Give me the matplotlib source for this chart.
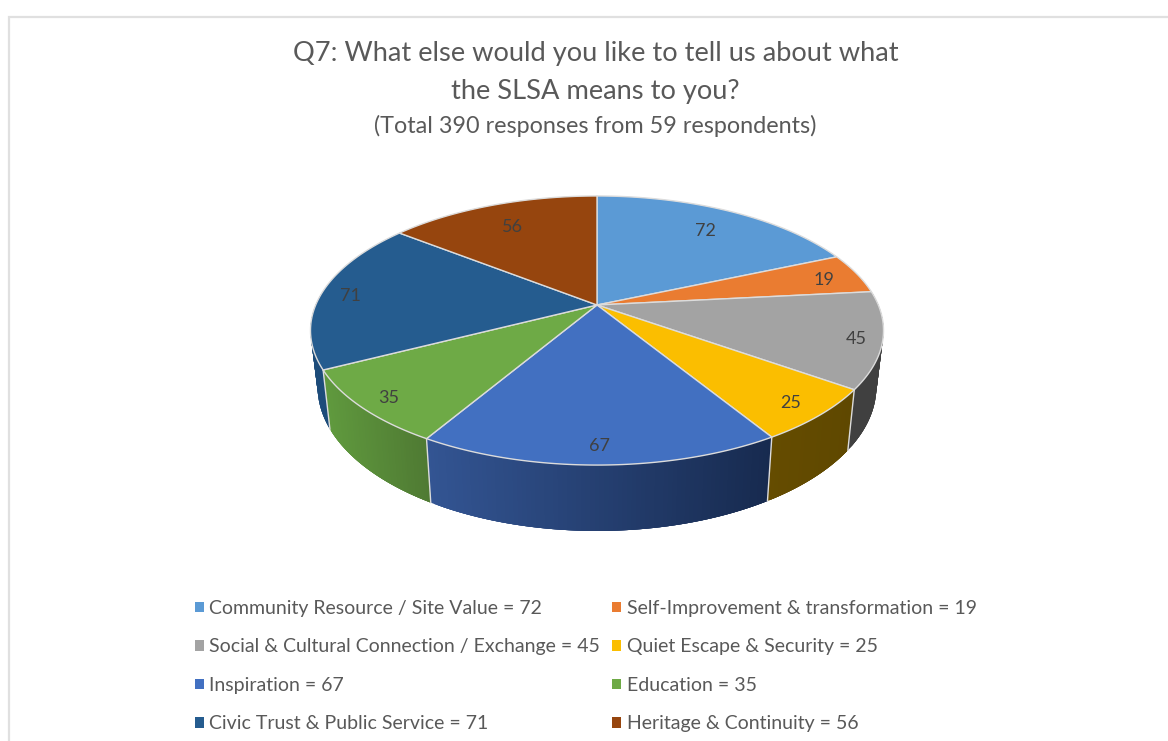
from __future__ import annotations

import matplotlib

matplotlib.use("Agg")

import matplotlib.pyplot as plt
import numpy as np
from matplotlib.patches import Patch

plt.rcParams["font.family"] = ["Lato", "DejaVu Sans"]

CATEGORIES = [
    "Community Resource / Site Value",
    "Self-Improvement & transformation",
    "Social & Cultural Connection / Exchange",
    "Quiet Escape & Security",
    "Inspiration",
    "Education",
    "Civic Trust & Public Service",
    "Heritage & Continuity",
]
VALUES = [72, 19, 45, 25, 67, 35, 71, 56]

COLORS = ["#5b9ad5", "#ea7c31", "#a3a3a3", "#fbbe00", "#4270c1", "#6eaa46", "#255c8f", "#96450e"]
WALL_LEFT = ["#404040", "#404040", "#404040", "#654c00", "#335593", "#609a3e", "#1d4c7a", "#96450e"]
WALL_RIGHT = ["#404040", "#404040", "#404040", "#5f4800", "#172a4f", "#4f7a33", "#1d4c7a", "#96450e"]
LABEL_RADIUS = [0.79, 0.87, 0.91, 0.886, 0.89, 0.90, 0.895, 0.78]

TEXT_GREY = "#595959"
EDGE = "#dcdcdc"

# pie projection, in pixels of the figure
CX, CY = 597.0, 305.0
RX, RY = 281.3, 129.7
PERSP = 0.1897
BOTTOM_RX = 274.3
BOTTOM_RY = 139.0
BOTTOM_DROP = 54.4


def top_xy(theta: np.ndarray, radius: float = 1.0) -> tuple[np.ndarray, np.ndarray]:
    # theta runs clockwise from twelve o'clock
    x = radius * np.sin(theta)
    y = radius * np.cos(theta)
    den = 1 + PERSP * y
    return CX + RX * x / den, CY - RY * y / den


def bottom_xy(theta: np.ndarray) -> tuple[np.ndarray, np.ndarray]:
    x = np.sin(theta)
    y = np.cos(theta)
    den = 1 + PERSP * y
    return CX + BOTTOM_RX * x / den, CY + BOTTOM_DROP - BOTTOM_RY * y / den


def draw_wall(ax, t0: float, t1: float, left: str, right: str) -> None:
    steps = np.linspace(t0, t1, 81)
    xt, yt = top_xy(steps)
    xb, yb = bottom_xy(steps)
    c_left = np.array(matplotlib.colors.to_rgb(left))
    c_right = np.array(matplotlib.colors.to_rgb(right))
    span = max(xt.max() - xt.min(), 1.0)
    # strips run from the low-x side and overlap the next ones, so no seams show
    order = np.arange(len(steps) - 1)[::-1]
    for i in order:
        j = max(i - 3, 0)
        frac = (0.5 * (xt[i] + xt[i + 1]) - xt.min()) / span
        color = c_left + (c_right - c_left) * frac
        idx = np.arange(j, i + 2)
        ax.fill(
            np.concatenate([xt[idx], xb[idx][::-1]]),
            np.concatenate([yt[idx], yb[idx][::-1]]),
            color=color,
            lw=0,
            zorder=2,
        )


def main() -> None:
    fig = plt.figure(figsize=(11.68, 7.41), dpi=100)
    ax = fig.add_axes([0, 0, 1, 1])
    ax.set_xlim(0, 1168)
    ax.set_ylim(741, 0)
    ax.axis("off")

    # chart frame runs off the picture on the right and at the bottom
    ax.plot([9, 9, 1168], [741, 17, 17], color="#e0e0e0", lw=1.6, zorder=1, solid_joinstyle="miter")

    values = np.array(VALUES, dtype=float)
    edges = np.concatenate([[0.0], np.cumsum(values)]) / values.sum() * 2 * np.pi

    # walls first, the top face covers whatever is behind
    for i in range(len(values)):
        t0, t1 = edges[i], edges[i + 1]
        lo, hi = max(t0, np.pi / 2 - 0.1), min(t1, 3 * np.pi / 2 + 0.1)
        if hi <= lo:
            continue
        draw_wall(ax, lo, hi, WALL_LEFT[i], WALL_RIGHT[i])

    for i in range(len(values)):
        if np.pi / 2 < edges[i] < 3 * np.pi / 2:
            xt, yt = top_xy(np.array([edges[i]]))
            xb, yb = bottom_xy(np.array([edges[i]]))
            ax.plot([xt[0], xb[0]], [yt[0], yb[0]], color=EDGE, lw=1.0, zorder=3)

    for i in range(len(values)):
        steps = np.linspace(edges[i], edges[i + 1], 90)
        xt, yt = top_xy(steps)
        ax.fill(
            np.concatenate([[CX], xt]),
            np.concatenate([[CY], yt]),
            facecolor=COLORS[i],
            edgecolor=EDGE,
            lw=1.0,
            zorder=4,
        )

    for i, value in enumerate(VALUES):
        mid = 0.5 * (edges[i] + edges[i + 1])
        lx, ly = top_xy(np.array([mid]), LABEL_RADIUS[i])
        ax.text(lx[0], ly[0] + 2.5, str(value), ha="center", va="center", fontsize=13, color="#404040", zorder=5)

    ax.text(595.5, 54, "Q7: What else would you like to tell us about what", ha="center", va="center",
            fontsize=19.65, color=TEXT_GREY)
    ax.text(595.5, 91, "the SLSA means to you?", ha="center", va="center", fontsize=19.65, color=TEXT_GREY)
    ax.text(595.5, 126, "(Total 390 responses from 59 respondents)", ha="center", va="center",
            fontsize=16.8, color=TEXT_GREY)

    # two columns filled row by row, as in the reference
    order = [0, 2, 4, 6, 1, 3, 5, 7]
    handles = [Patch(facecolor=COLORS[i], edgecolor="none") for i in order]
    labels = [f"{CATEGORIES[i]} = {VALUES[i]}" for i in order]
    fig.legend(
        handles,
        labels,
        ncol=2,
        loc="upper left",
        bbox_to_anchor=(189 / 1168, 1 - 594 / 741),
        frameon=False,
        fontsize=14.05,
        labelcolor=TEXT_GREY,
        handlelength=0.45,
        handleheight=0.45,
        handletextpad=0.3,
        columnspacing=0.62,
        labelspacing=1.1,
        borderpad=0.3,
        borderaxespad=0,
    )

    fig.savefig("out.png", dpi=100)
    plt.close(fig)


if __name__ == "__main__":
    main()
